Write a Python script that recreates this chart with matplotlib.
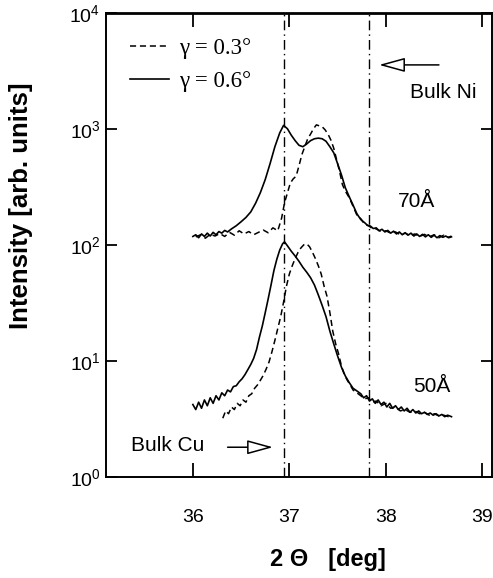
import matplotlib
matplotlib.use('Agg')
import matplotlib.pyplot as plt
from matplotlib.ticker import LogLocator, NullLocator

plt.rcParams['font.family'] = ['Liberation Sans', 'DejaVu Sans']
plt.rcParams['mathtext.fontset'] = 'custom'
plt.rcParams['mathtext.rm'] = 'Liberation Sans'
plt.rcParams['mathtext.it'] = 'Liberation Sans:italic'
plt.rcParams['mathtext.bf'] = 'Liberation Sans:bold'

# 70 A film, gamma = 0.6 deg (solid)
x70_06 = [36.00, 36.03, 36.06, 36.09, 36.12, 36.15, 36.18, 36.21, 36.24, 36.27, 36.30, 36.33,
          36.36, 36.40, 36.45, 36.50, 36.55, 36.60, 36.65, 36.70, 36.75, 36.80, 36.85, 36.90,
          36.94, 36.98, 37.02, 37.06, 37.10, 37.14, 37.18, 37.22, 37.26, 37.30, 37.34, 37.38,
          37.42, 37.46, 37.50, 37.54, 37.58, 37.62, 37.66, 37.70, 37.74, 37.78, 37.81, 37.84,
          37.87, 37.90, 37.93, 37.96, 37.99, 38.02, 38.05, 38.08, 38.11, 38.14, 38.17, 38.20,
          38.23, 38.26, 38.29, 38.32, 38.35, 38.38, 38.41, 38.44, 38.47, 38.50, 38.53, 38.56,
          38.59, 38.62, 38.65, 38.68]
y70_06 = [118, 122, 115, 124, 118, 126, 119, 128, 122, 130, 126, 133,
          129, 137, 146, 158, 172, 192, 228, 282, 365, 500, 700, 920,
          1070, 1000, 880, 790, 720, 700, 740, 790, 820, 830, 820, 780,
          700, 620, 500, 400, 310, 260, 220, 185, 165, 155, 147, 145,
          138, 140, 132, 136, 129, 133, 126, 131, 124, 129, 122, 127,
          121, 126, 119, 124, 118, 123, 117, 122, 116, 121, 115, 120,
          116, 119, 115, 117]

# 70 A film, gamma = 0.3 deg (dashed)
x70_03 = [36.03, 36.08, 36.13, 36.18, 36.23, 36.28, 36.33, 36.38, 36.43, 36.48, 36.53, 36.58,
          36.63, 36.68, 36.73, 36.78, 36.83, 36.88, 36.92, 36.95, 36.98, 37.01, 37.04, 37.07,
          37.10, 37.13, 37.16, 37.19, 37.22, 37.25, 37.28, 37.31, 37.34, 37.37, 37.40, 37.43,
          37.46, 37.49, 37.52, 37.55, 37.58, 37.62, 37.66, 37.70, 37.74, 37.78, 37.82, 37.86,
          37.90, 37.95, 38.00, 38.05, 38.10, 38.15, 38.20, 38.25, 38.30, 38.35, 38.40, 38.45,
          38.50, 38.55, 38.60, 38.65, 38.68]
y70_03 = [117, 122, 114, 123, 119, 125, 118, 128, 121, 132, 124, 130,
          122, 128, 134, 127, 140, 132, 170, 230, 280, 340, 370, 390,
          480, 600, 700, 820, 900, 1000, 1080, 1060, 1040, 980, 900, 800,
          680, 540, 430, 330, 290, 255, 215, 180, 168, 150, 146, 138,
          137, 130, 132, 126, 129, 122, 126, 120, 124, 118, 123, 117,
          122, 115, 121, 116, 119]

# 50 A film, gamma = 0.6 deg (solid)
x50_06 = [36.00, 36.03, 36.06, 36.09, 36.12, 36.15, 36.18, 36.21, 36.24, 36.27, 36.30, 36.33,
          36.36, 36.39, 36.42, 36.45, 36.48, 36.51, 36.54, 36.57, 36.60, 36.63, 36.66, 36.69,
          36.72, 36.75, 36.78, 36.81, 36.84, 36.87, 36.90, 36.93, 36.95, 36.98, 37.02, 37.06,
          37.10, 37.14, 37.18, 37.22, 37.26, 37.30, 37.34, 37.38, 37.42, 37.46, 37.50, 37.54,
          37.58, 37.62, 37.66, 37.70, 37.74, 37.77, 37.80, 37.83, 37.86, 37.89, 37.92, 37.95,
          37.98, 38.01, 38.04, 38.07, 38.10, 38.13, 38.16, 38.19, 38.22, 38.25, 38.28, 38.31,
          38.34, 38.37, 38.40, 38.43, 38.46, 38.49, 38.52, 38.55, 38.58, 38.61, 38.64, 38.68]
y50_06 = [4.2, 3.8, 4.4, 3.9, 4.6, 4.1, 4.8, 4.3, 5.0, 4.6, 5.3, 5.0,
          5.6, 5.4, 6.0, 6.1, 6.6, 7.0, 7.6, 8.4, 9.3, 10.5, 12.5, 16,
          20, 26, 34, 45, 60, 75, 90, 102, 106, 98, 88, 80,
          72, 64, 58, 52, 45, 37, 30, 24, 18, 14, 11, 8.8,
          7.4, 6.5, 5.8, 5.5, 5.2, 4.8, 5.0, 4.5, 4.7, 4.3, 4.6, 4.2,
          4.4, 4.0, 4.3, 3.9, 4.1, 3.8, 4.0, 3.7, 3.9, 3.6, 3.8, 3.55,
          3.7, 3.5, 3.6, 3.45, 3.55, 3.4, 3.5, 3.35, 3.45, 3.3, 3.4, 3.3]

# 50 A film, gamma = 0.3 deg (dashed)
x50_03 = [36.31, 36.34, 36.37, 36.40, 36.43, 36.46, 36.49, 36.52, 36.55, 36.58, 36.61, 36.64,
          36.67, 36.70, 36.73, 36.76, 36.79, 36.82, 36.85, 36.88, 36.91, 36.94, 36.97, 37.00,
          37.03, 37.06, 37.09, 37.12, 37.15, 37.18, 37.21, 37.24, 37.27, 37.30, 37.33, 37.36,
          37.39, 37.42, 37.45, 37.48, 37.51, 37.54, 37.57, 37.60, 37.63, 37.66, 37.70, 37.74,
          37.78, 37.82, 37.86, 37.90, 37.95, 38.00, 38.05, 38.10, 38.15, 38.20, 38.25, 38.30,
          38.35, 38.40, 38.45, 38.50, 38.55, 38.60, 38.65, 38.68]
y50_03 = [3.2, 3.7, 3.5, 4.0, 3.8, 4.3, 4.1, 4.6, 4.4, 5.0, 5.2, 5.8,
          6.2, 6.8, 7.5, 8.5, 9.8, 12, 15, 19, 24, 32, 44, 56,
          66, 76, 86, 94, 100, 102, 96, 86, 76, 66, 56, 44,
          36, 26, 18, 14, 11.5, 9.0, 7.6, 6.8, 6.2, 5.6, 5.3, 5.0,
          4.7, 4.8, 4.4, 4.5, 4.1, 4.3, 3.9, 4.0, 3.7, 3.8, 3.6, 3.7,
          3.5, 3.6, 3.4, 3.5, 3.35, 3.4, 3.3, 3.3]

bulk_cu = 36.94
bulk_ni = 37.83
xticks = [36, 37, 38, 39]
legend_labels = ['γ = 0.3°', 'γ = 0.6°']

fig = plt.figure(figsize=(4.93, 5.78), dpi=100)
ax = fig.add_axes([0.215, 0.175, 0.783, 0.803])

dash = (0, (4, 2.5))
l1, = ax.plot(x70_03, y70_03, color='black', lw=1.1, linestyle=dash)
l2, = ax.plot(x70_06, y70_06, color='black', lw=1.2)
ax.plot(x50_03, y50_03, color='black', lw=1.1, linestyle=dash)
ax.plot(x50_06, y50_06, color='black', lw=1.2)

for xv in [bulk_cu, bulk_ni]:
    ax.axvline(xv, color='black', lw=1.0, linestyle=(0, (7, 3, 1, 3)))

ax.set_yscale('log')
ax.set_xlim(35.1, 39.1)
ax.set_ylim(1, 1e4)
ax.set_xticks(xticks)
ax.yaxis.set_major_locator(LogLocator(base=10, numticks=10))
ax.yaxis.set_minor_locator(NullLocator())
ax.xaxis.set_minor_locator(NullLocator())
ax.tick_params(axis='both', direction='in', top=True, right=True, width=1.3, labelsize=14)
ax.tick_params(axis='x', length=10, pad=23)
ax.tick_params(axis='y', length=8, pad=4)
for s in ax.spines.values():
    s.set_linewidth(1.4)
ax.spines['top'].set_linewidth(2)

ax.set_ylabel('Intensity [arb. units]', fontsize=18.5, fontweight='bold')
ax.yaxis.set_label_coords(-0.19, 0.584)
ax.set_xlabel('2 Θ   [deg]', fontsize=17, fontweight='bold')
ax.xaxis.set_label_coords(0.575, -0.153)

leg = ax.legend([l1, l2], legend_labels, loc='upper left', bbox_to_anchor=(0.062, 0.945),
                frameon=False, borderpad=0, borderaxespad=0, handlelength=1.7,
                handletextpad=0.45, labelspacing=0.5,
                prop={'family': 'Liberation Serif', 'size': 16.5})

ax.text(38.25, 2040, 'Bulk Ni', fontsize=15, va='center', ha='left')
ax.text(38.12, 234, '70Å', fontsize=15, va='center', ha='left')
ax.text(38.28, 6.0, '50Å', fontsize=15, va='center', ha='left')
ax.text(35.36, 1.85, 'Bulk Cu', fontsize=15, va='center', ha='left')

arrow_style = dict(arrowstyle='-|>,head_length=0.8,head_width=0.22', color='black', lw=1.1,
                   fc='white', mutation_scale=20, shrinkA=0, shrinkB=0)
ax.annotate('', xy=(37.93, 3550), xytext=(38.55, 3550), arrowprops=arrow_style)
ax.annotate('', xy=(36.83, 1.8), xytext=(36.36, 1.8), arrowprops=arrow_style)

fig.savefig('out.png', dpi=100)
